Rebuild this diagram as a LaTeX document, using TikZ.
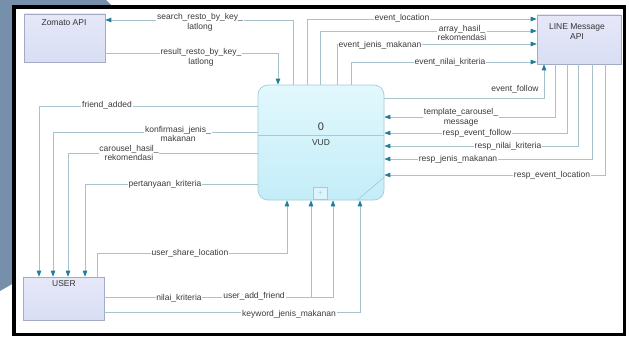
\documentclass[tikz,border=0pt]{standalone}
\usepackage{fontspec}
\setmainfont{Liberation Sans}
\usetikzlibrary{arrows.meta}

\definecolor{slate}{HTML}{7690AC}
\definecolor{flowline}{HTML}{A9C3CE}
\definecolor{tipcol}{HTML}{1F7E9C}
\definecolor{extfillA}{HTML}{E6E8F8}
\definecolor{extfillB}{HTML}{D9DEF4}
\definecolor{extdraw}{HTML}{A3ABC4}
\definecolor{procA}{HTML}{E2F8FD}
\definecolor{procB}{HTML}{C4EDF8}
\definecolor{procdraw}{HTML}{A2CCD8}
\definecolor{lbltext}{HTML}{3A3A3A}

\tikzset{
  extent/.style={draw=extdraw, line width=0.6pt, top color=extfillA, bottom color=extfillB,
    inner sep=0pt},
  proc/.style={draw=procdraw, line width=0.7pt, top color=procA, bottom color=procB,
    rounded corners=10pt, minimum width=126pt, minimum height=115pt, inner sep=0pt},
  ttl/.style={text=lbltext!90!black, font=\fontsize{8.5}{10}\selectfont, align=center, inner sep=0pt},
  flow/.style={draw=flowline, line width=0.8pt,
    -{Triangle[length=6pt,width=4.5pt,color=tipcol]}},
  lbl/.style={fill=white, inner sep=0.8pt, text=lbltext,
    font=\fontsize{8.5}{9.8}\selectfont, align=center},
}

\begin{document}
\begin{tikzpicture}[x=1pt, y=-1pt]
\useasboundingbox (0,0) rectangle (629,337);

% page backdrop and frame
\fill[white] (0,0) rectangle (629,337);
\fill[slate] (0,0) -- (106,0) -- (114,8) -- (14,8) -- (14,283) -- (0,291) -- cycle;
\draw[line width=3.5pt] (14,7) rectangle (624.5,334.5);

% external entities
\node[extent, minimum width=81pt, minimum height=48pt] (zomato) at (64.5,38) {};
\node[ttl] (zomatoT) at (64,23) {Zomato API};
\node[extent, minimum width=84pt, minimum height=49pt] (line) at (579,39.5) {};
\node[ttl] (lineT) at (577,32) {LINE Message\\API};
\node[extent, minimum width=81pt, minimum height=43pt] (user) at (63.5,298.5) {};
\node[ttl] (userT) at (64,284) {USER};

% process
\node[proc] (vud) at (321,142.5) {};
\draw[procdraw, line width=0.7pt] (vud.west |- 0,135) -- (vud.east |- 0,135);
\node[ttl, font=\fontsize{11}{12}\selectfont] (vudnum) at (321,127) {0};
\node[ttl] (vudname) at (321,143) {VUD};
\node[draw=procdraw, fill=procB!60!white, minimum width=14pt, minimum height=12pt, inner sep=0pt,
  text=procdraw, font=\fontsize{7}{7}\selectfont] (vudplus) at (320.5,193) {+};
\draw[procdraw, line width=0.7pt] (vud.south -| 357,0) -- (vud.east |- 0,177);

% VUD <-> Zomato API
\draw[flow] (vud.north -| 293,0) |- (zomato.east |- 0,20);
\draw[flow] (zomato.east |- 0,53) -| (vud.north -| 278,0);
\node[lbl] (l1) at (200,22) {search\_resto\_by\_key\_\\latlong};
\node[lbl] (l2) at (201,57) {result\_resto\_by\_key\_\\latlong};

% VUD -> LINE Message API
\draw[flow] (vud.north -| 307,0) |- (line.west |- 0,19);
\draw[flow] (vud.north -| 320,0) |- (line.west |- 0,31);
\draw[flow] (vud.north -| 337,0) |- (line.west |- 0,44);
\draw[flow] (vud.north -| 351,0) |- (line.west |- 0,62);
\draw[flow] (vud.east |- 0,98) -| (line.south -| 544,0);
\node[lbl] (l3) at (402,18) {event\_location};
\node[lbl] (l4) at (462,33) {array\_hasil\_\\rekomendasi};
\node[lbl] (l5) at (380,45) {event\_jenis\_makanan};
\node[lbl] (l6) at (450,62) {event\_nilai\_kriteria};
\node[lbl, fill=none] (l7) at (515,89) {event\_follow};

% LINE Message API -> VUD
\draw[flow] (line.south -| 555,0) |- (vud.east |- 0,117);
\draw[flow] (line.south -| 567,0) |- (vud.east |- 0,133);
\draw[flow] (line.south -| 578,0) |- (vud.east |- 0,146);
\draw[flow] (line.south -| 592,0) |- (vud.east |- 0,159);
\draw[flow] (line.south -| 605,0) |- (vud.east |- 0,175);
\node[lbl] (l8) at (461,117) {template\_carousel\_\\message};
\node[lbl] (l9) at (477,133) {resp\_event\_follow};
\node[lbl] (l10) at (508,146) {resp\_nilai\_kriteria};
\node[lbl] (l11) at (458,159) {resp\_jenis\_makanan};
\node[lbl] (l12) at (552,175) {resp\_event\_location};

% VUD -> USER
\draw[flow] (vud.west |- 0,106) -| (user.north -| 39,0);
\draw[flow] (vud.west |- 0,132) -| (user.north -| 53,0);
\draw[flow] (vud.west |- 0,153) -| (user.north -| 68,0);
\draw[flow] (vud.west |- 0,184) -| (user.north -| 85,0);
\node[lbl] (l13) at (107,105) {friend\_added};
\node[lbl] (l14) at (178,134) {konfirmasi\_jenis\_\\makanan};
\node[lbl] (l15) at (129,153) {carousel\_hasil\_\\rekomendasi};
\node[lbl] (l16) at (165,184) {pertanyaan\_kriteria};

% USER -> VUD
\draw[flow] (user.north -| 97,0) -- (97,253) -| (vud.south -| 287,0);
\draw[flow] (user.east |- 0,297) -| (vud.south -| 311,0);
\draw[flow] (user.east |- 0,297) -| (vud.south -| 333,0);
\draw[flow] (user.east |- 0,312) -| (vud.south -| 360,0);
\node[lbl] (l17) at (190,253) {user\_share\_location};
\node[lbl] (l18) at (179,298) {nilai\_kriteria};
\node[lbl] (l19) at (254,296) {user\_add\_friend};
\node[lbl] (l20) at (289,314) {keyword\_jenis\_makanan};
\end{tikzpicture}
\end{document}
